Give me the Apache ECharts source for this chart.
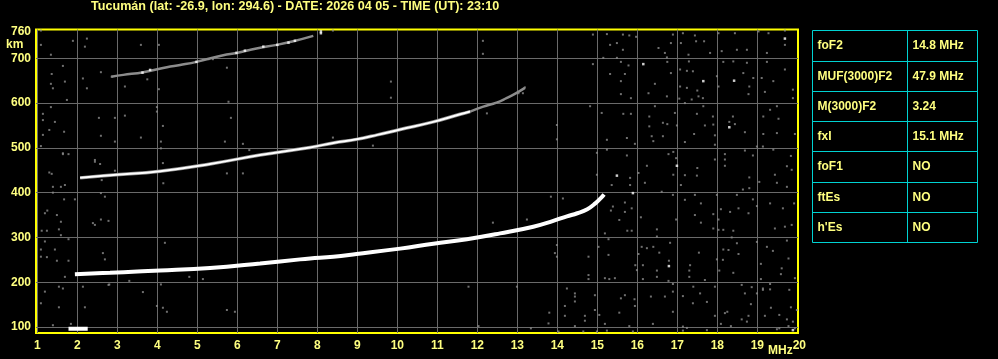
<!DOCTYPE html>
<html><head><meta charset="utf-8">
<script src="https://cdn.jsdelivr.net/npm/echarts@6/dist/echarts.min.js"></script>
<style>html,body{margin:0;padding:0;background:#000;}#c{width:998px;height:359px;}</style>
</head><body><div id="c"></div>
<script>
const titleText = 'Tucumán (lat: -26.9, lon: 294.6) - DATE: 2026 04 05 - TIME (UT): 23:10';
const freqLabels = [1,2,3,4,5,6,7,8,9,10,11,12,13,14,15,16,17,18,19,20];
const freqGrid = [1,2,3,4,5,6,7,8,9,10,11,12,13,14,15,16,17,18,19];
const kmLabels = [100,200,300,400,500,600,700,760];
const kmGrid = [100,200,300,400,500,600,700];
const tableLabels = ['foF2','MUF(3000)F2','M(3000)F2','fxI','foF1','ftEs',"h'Es"];
const tableValues = ['14.8 MHz','47.9 MHz','3.24','15.1 MHz','NO','NO','NO'];

// first-hop F2 ordinary trace [MHz, km]
const oTrace = [[1.94,218],[2.82,221],[3.5,224],[4.07,226],[5.32,232],[6.57,242],[7.57,251],[7.82,253],[8.4,257],[8.98,263],[10.07,275],[10.9,286],[11.74,296],[12.57,309],[13.4,324],[13.9,337],[14.24,347],[14.5,354],[14.75,363],[14.95,376],[15.1,389],[15.17,396]];
// second hop
const hop2Trace = [[2.07,433],[2.82,439],[4.07,448],[5.32,464],[6.57,484],[7.82,501],[8.4,511],[8.98,519],[9.5,529],[10.07,541],[10.9,558],[11.57,575],[11.82,581]];
const hop2Tail = [[11.82,581],[12.15,592],[12.48,601],[12.73,611],[12.95,621],[13.19,634]];
// third hop
const hop3Trace = [[2.85,659],[3.15,663],[3.65,669],[4.24,680],[4.57,685],[4.98,692],[5.65,707],[5.98,712],[6.48,722],[6.99,730],[7.4,738],[7.9,750]];
const hop3White = [[3.63,668],[3.82,674],[4.98,692],[5.98,712],[6.19,717],[6.65,726],[7.0,730],[7.28,735],[7.44,739]];
// sporadic low echo
const eBlob = [[1.78,96],[2.26,96]];

const noiseWhite = [[19.69,744],[16.15,687],[17.65,649],[18.42,650],[18.3,546],[16.99,460],[15.49,438],[15.89,399],[16.79,236],[19.89,93],[8.09,760],[8.09,756]];
const noiseGray = [
[14.89,753],[15.24,754],[15.64,753],[15.8,751],[15.97,748],[16.89,753],[17.14,756],[17.44,751],[18.03,756],[18.44,756],[19.03,760],[19.28,756],[19.69,762],
[15.32,730],[15.49,734],[15.64,719],[16.53,723],[16.69,712],[16.84,734],[17.09,734],[17.47,738],[17.67,738],[17.82,712],[18.11,716],[18.49,719],[18.74,719],[19.24,712],[19.69,730],
[15.15,701],[15.49,701],[16.74,702],[17.28,708],
[14.89,687],[15.59,692],[15.78,684],[16.75,692],[17.29,693],[18.15,692],[18.4,693],[18.74,690],[19.24,692],
[15.32,665],[15.69,665],[16.84,667],[17.07,675],[17.24,672],[17.39,671],[17.99,660],[18.65,667],[18.9,656],[19.11,656],[19.4,649],[19.69,675],
[15.59,649],[16.44,643],[17.07,637],[17.24,634],[17.5,628],[18.03,637],[18.8,637],[19.89,630],
[15.59,620],[15.84,611],[16.28,622],[16.74,615],[17.05,610],[17.36,608],[17.53,615],[17.64,611],[18.78,620],[19.19,625],[19.89,611],
[14.82,593],[15.11,578],[15.65,576],[15.84,576],[16.3,570],[16.44,593],[16.94,578],[17.19,600],[17.49,576],[17.65,593],[17.89,570],[18.39,570],[19.32,585],[19.49,593],[19.53,565],[19.15,570],
[16.3,548],[16.64,556],[16.75,553],[16.99,550],[17.69,550],[17.9,552],[18.3,558],[18.44,553],[18.69,535],[19.15,531],[19.49,533],[19.94,531],
[15.24,518],[15.74,522],[15.94,509],[16.36,526],[16.4,515],[16.64,526],[17.19,513],[17.42,531],[17.94,528],[17.94,507],[18.99,503],[19.14,503],
[15.24,496],[14.99,489],[15.74,483],[16.78,486],[16.9,491],[18.19,486],[18.69,494],[18.89,483],[19.4,496],[19.84,482],
[16.97,477],[17.94,474],[18.19,474],[16.24,460],[17.5,455],[18.19,460],[19.74,459],
[14.99,440],[15.82,433],[16.03,444],[16.9,440],[17.19,439],[17.49,438],[18.8,434],[19.44,440],[19.86,451],
[15.36,417],[15.82,417],[16.19,422],[17.09,417],[18.64,407],[18.8,410],[19.05,424],[19.49,422],[19.74,413],
[16.61,402],[16.89,395],[17.44,395],[17.99,395],[18.49,395],
[15.86,365],[15.69,378],[15.39,369],[17.19,384],[17.59,376],[18.09,363],[18.32,357],[18.53,365],[18.89,385],[18.99,370],[19.32,376],[19.64,365],[19.92,376],
[15.69,357],[16.09,345],[15.55,339],[16.97,340],[17.44,350],[17.9,352],[18.03,340],[17.59,333],[18.78,354],[19.44,320],[19.69,324],[19.86,328],
[15.75,315],[15.86,315],[16.49,318],[17.9,320],[18.03,317],[18.15,317],[18.4,315],[15.19,309],[16.49,302],[16.82,288],[18.36,300],[18.49,287],[18.99,290],[19.74,293],
[15.03,279],[16.11,279],[16.24,276],[16.4,279],[16.55,266],[16.03,263],[17.54,266],[18.15,273],[18.28,272],[18.53,263],[19.24,279],[19.39,270],[19.78,253],
[15.28,261],[15.95,238],[16.14,238],[16.79,248],[17.32,238],[17.99,251],[18.14,250],[19.09,241],[19.61,231],
[15.99,227],[16.49,226],[17.3,226],[18.05,226],[18.4,221],[19.59,218],
[15.19,209],[15.3,207],[15.44,209],[16.14,207],[16.49,212],[16.78,203],[17.3,212],[17.69,205],[19.09,207],[19.94,209],
[16.89,196],[17.4,190],[17.94,190],[18.61,194],[18.86,189],[19.14,186],[19.32,196],
[14.94,171],[15.59,164],[15.69,171],[15.93,162],[16.34,168],[16.69,168],[16.89,179],[17.14,169],[17.57,175],[18.69,175],[18.99,175],[19.14,183],[19.32,184],[19.8,183],
[17.39,153],[17.74,156],[18.84,151],[19.34,143],[19.84,144],
[14.94,138],[15.05,127],[15.55,132],[15.94,147],[16.89,134],[17.94,125],[18.19,131],[18.25,134],[18.61,117],[18.78,125],[19.19,125],[19.55,127],[19.74,117],
[15.19,107],[15.8,102],[16.39,107],[17.14,101],[17.24,98],[18.09,107],[18.34,102],[18.74,112],[19.49,95],[19.78,102],
[14.99,90],[15.24,92],[15.89,90],[17.74,93],
[1.09,762],[1.89,739],[2.24,744],[1.09,730],[2.19,726],[1.34,708],[1.64,683],[1.36,665],[1.69,648],[1.34,643],[1.39,633],[2.59,669],[2.14,655],[2.24,633],[2.86,659],[1.74,607],[1.34,591],[1.14,576],[1.14,562],[1.44,558],[1.3,540],[1.14,529],[1.67,536],[2.54,567],[2.59,527],[1.09,504],[1.64,486],[1.78,486],[2.94,514],[1.3,445],[1.36,442],[1.39,413],[1.59,413],[1.69,417],[1.39,400],[1.67,385],[1.94,385],[1.19,354],[1.25,360],[1.49,350],[1.59,335],[1.54,318],[1.11,315],[1.24,315],[1.59,305],[1.78,296],[1.19,291],[1.09,273],[1.44,273],[1.09,257],[1.24,256],[1.49,248],[1.78,248],[1.69,212],[1.19,179],[1.54,190],[1.64,186],[1.09,153],[1.54,144],[1.39,104],[2.14,190],[2.19,144],[2.64,265],[2.69,251],[2.78,194],[2.39,332],[2.44,328],[2.59,340],[2.78,337],[2.59,399],[2.61,428],[2.44,469],[2.57,464],[2.94,449],[2.69,391],[1.84,107],
[3.99,147],[4.14,143],[4.24,134],[5.74,138],[5.94,134],[12.03,102],
[13.8,132],[13.78,108],[13.34,97],[14.03,90],[14.19,147],[14.44,157],[14.19,125],[14.44,102],[14.69,125],[14.69,114],[14.65,90],[17.14,92],[19.55,97],[19.89,112],[19.94,97],[19.99,138],
[4.19,288],[3.3,203],[2.8,195],[3.64,178],[4.09,195],[4.8,212],[5.14,207],
[2.94,567],[3.19,572],[3.59,523],[4.09,514],[3.99,591],[3.99,581],[4.14,549],[4.09,499],[5.78,603],[5.84,567],[5.69,514],[6.14,509],[6.3,495],[2.44,473],[1.64,488],[5.74,443],[6.14,443],[4.14,466],[4.15,421],[8.39,523],
[3.59,730],[4.04,730],[3.19,637],[4.04,631],[8.39,762],[5.74,679],[3.75,653],[12.14,739],[12.14,710],[5.28,698],[5.39,698],
[9.84,648],[9.84,612],[9.39,505],[12.24,577],[13.19,635],[13.14,622],[13.03,622],[13.99,551],[13.99,519],
[12.39,333],[13.84,391],[14.14,387],[13.24,340],[11.78,190],[12.99,190],[13.99,283],[13.99,257],[13.94,265],[14.24,186],[14.44,175],[14.44,168],[14.78,257],[14.78,216],[14.78,207],[15.34,360],[15.28,296]
];

const YEL = '#ffff80', BORDER = '#ffff00', CYAN = '#00d2d2', GRID = '#6a6a6a', FONT = 'Liberation Sans';
const txt = {color: YEL, fontFamily: FONT, fontWeight: 'bold', fontSize: 12};

const chart = echarts.init(document.getElementById('c'), null, {renderer: 'canvas'});

const graphics = [
  {type: 'text', left: 6, top: 39, style: {text: 'km', fill: YEL, font: 'bold 12px ' + FONT}},
  {type: 'text', left: 768, top: 345, style: {text: 'MHz', fill: YEL, font: 'bold 12px ' + FONT}}
];
const tx0 = 812.5, tx1 = 907.5, tx2 = 977.5;
const rowY = i => Math.floor(30.83 + i * 30.29) + 0.5;
for (let i = 0; i <= tableLabels.length; i++) {
  graphics.push({type: 'line', shape: {x1: tx0, y1: rowY(i), x2: tx2, y2: rowY(i)}, style: {stroke: CYAN, lineWidth: 1}});
}
[tx0, tx1, tx2].forEach(x => graphics.push({type: 'line', shape: {x1: x, y1: rowY(0), x2: x, y2: rowY(tableLabels.length)}, style: {stroke: CYAN, lineWidth: 1}}));
tableLabels.forEach((lab, i) => {
  const cy = (rowY(i) + rowY(i + 1)) / 2;
  graphics.push({type: 'text', x: tx0 + 5, y: cy, style: {text: lab, fill: YEL, font: 'bold 12px ' + FONT, verticalAlign: 'middle'}});
  graphics.push({type: 'text', x: tx1 + 5, y: cy, style: {text: tableValues[i], fill: YEL, font: 'bold 12px ' + FONT, verticalAlign: 'middle'}});
});

const lineSeries = (data, color, width, z) => ({type: 'line', data, showSymbol: false, smooth: 0.45, lineStyle: {color, width}, z, silent: true});
const dotSeries = (data, color, size, z) => ({type: 'scatter', data, symbol: 'rect', symbolSize: size, itemStyle: {color}, z, silent: true});

chart.setOption({
  animation: false,
  backgroundColor: '#000',
  title: {text: titleText, left: 91, top: 0, padding: 0, textStyle: Object.assign({}, txt, {fontSize: 12.6})},
  grid: {left: 36, right: 200, top: 29.5, bottom: 26, show: true, borderColor: BORDER, borderWidth: 2, backgroundColor: 'transparent'},
  xAxis: {
    type: 'value', min: 0.9675, max: 20.0175,
    axisLine: {show: false}, axisTick: {show: false, customValues: freqGrid},
    axisLabel: {customValues: freqLabels, margin: 7, color: YEL, fontFamily: FONT, fontWeight: 'bold', fontSize: 12,
      formatter: v => v === 20 ? '{a|20}' : String(v), rich: {a: {padding: [0, 0, 0, 4], color: YEL, fontFamily: FONT, fontWeight: 'bold', fontSize: 12}}},
    splitLine: {show: true, lineStyle: {color: GRID, width: 1}}
  },
  yAxis: {
    type: 'value', min: 86.6, max: 764.3,
    axisLine: {show: false}, axisTick: {show: false, customValues: kmGrid},
    axisLabel: {customValues: kmLabels, margin: 5, color: YEL, fontFamily: FONT, fontWeight: 'bold', fontSize: 12},
    splitLine: {show: true, lineStyle: {color: GRID, width: 1}}
  },
  graphic: graphics,
  series: [
    dotSeries(noiseGray, '#8c8c8c', 2, 2),
    lineSeries(hop3Trace, '#8c8c8c', 2.5, 3),
    lineSeries(hop2Tail, '#8c8c8c', 2.5, 3),
    lineSeries(hop2Trace, '#8c8c8c', 3.5, 3),
    lineSeries(hop2Trace, '#ffffff', 2, 4),
    lineSeries(oTrace, '#ffffff', 4, 4),
    lineSeries(eBlob, '#ffffff', 4, 4),
    dotSeries(hop3White, '#ffffff', 2.5, 5),
    dotSeries(noiseWhite, '#ffffff', 2.5, 5)
  ]
});
</script></body></html>
